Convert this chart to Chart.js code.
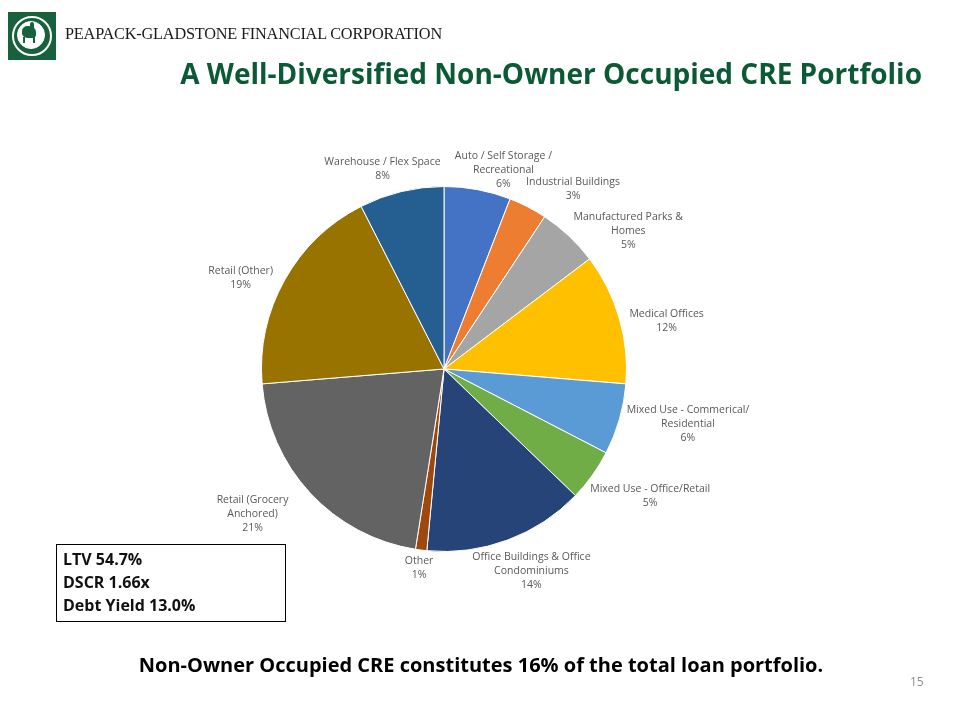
<!DOCTYPE html>
<html>
<head>
<meta charset="utf-8">
<script src="https://cdn.jsdelivr.net/npm/chart.js@4"></script>
<style>
  html, body { margin: 0; padding: 0; background: #fff; }
  #page { position: relative; width: 960px; height: 720px; overflow: hidden; font-family: "Open Sans", sans-serif; }
  #chartWrap { position: absolute; left: 0; top: 0; width: 960px; height: 720px; }
  #logo { position: absolute; left: 8px; top: 12px; width: 48px; height: 48px; background: #17613d; }
  #logo .ring { position: absolute; left: 4px; top: 4px; width: 36px; height: 36px; border-radius: 50%; border: 2px solid #fff; }
  #logo .inner { position: absolute; left: 9px; top: 9px; width: 26px; height: 26px; border-radius: 50%; background: #fff; border: 1px solid #fff; }
  #logo .horse { position: absolute; left: 14px; top: 14px; width: 14px; height: 12px; background: #17613d; border-radius: 40% 50% 30% 40%; }
  #logo .rider { position: absolute; left: 22px; top: 10px; width: 4px; height: 8px; background: #17613d; border-radius: 2px; }
  #logo .legs { position: absolute; left: 15px; top: 25px; width: 12px; height: 6px; border-left: 2px solid #17613d; border-right: 2px solid #17613d; box-sizing: border-box; }
  #company { position: absolute; left: 65px; top: 24px; font-family: "Liberation Serif", serif; font-size: 16.3px; color: #1a1a1a; letter-spacing: -0.2px; white-space: nowrap; }
  #title { position: absolute; left: 0; width: 960px; top: 54px; text-align: right; font-weight: bold; font-size: 28px; color: #0b5a35; white-space: nowrap; }
  #title span { margin-right: 38px; }
  #stats { position: absolute; left: 56px; top: 544px; width: 230px; height: 78px; border: 1px solid #000; font-weight: bold; font-size: 16px; line-height: 23px; color: #111; padding: 3px 0 0 6px; box-sizing: border-box; }
  #note { position: absolute; left: 0; width: 962px; top: 651px; text-align: center; font-weight: bold; font-size: 20px; color: #000; white-space: nowrap; }
  #pageNum { position: absolute; left: 910px; top: 673px; font-size: 12px; color: #8c8c8c; }
</style>
</head>
<body>
<div id="page">
  <div id="chartWrap"><canvas id="pie" width="960" height="720"></canvas></div>
  <div id="logo"><div class="ring"></div><div class="inner"></div><div class="horse"></div><div class="rider"></div><div class="legs"></div></div>
  <div id="company">PEAPACK-GLADSTONE FINANCIAL CORPORATION</div>
  <div id="title"><span>A Well-Diversified Non-Owner Occupied CRE Portfolio</span></div>
  <div id="stats">LTV 54.7%<br>DSCR 1.66x<br>Debt Yield 13.0%</div>
  <div id="note">Non-Owner Occupied CRE constitutes 16% of the total loan portfolio.</div>
  <div id="pageNum">15</div>
</div>
<script>
// slices, clockwise from 12 o'clock
var categories = [
    ['Auto / Self Storage /', 'Recreational'],
    ['Industrial Buildings'],
    ['Manufactured Parks &', 'Homes'],
    ['Medical Offices'],
    ['Mixed Use - Commerical/', 'Residential'],
    ['Mixed Use - Office/Retail'],
    ['Office Buildings & Office', 'Condominiums'],
    ['Other'],
    ['Retail (Grocery', 'Anchored)'],
    ['Retail (Other)'],
    ['Warehouse / Flex Space']
];
var shares = [5.9, 3.4, 5.4, 11.6, 6.3, 4.6, 14.3, 1.0, 21.2, 18.8, 7.5];
var sliceColors = ['#4472c4', '#ed7d31', '#a5a5a5', '#ffc000', '#5b9bd5', '#70ad47',
                   '#264478', '#9e480e', '#636363', '#997300', '#255e91'];

var labelFont = '10.5px "Open Sans"';
var lineH = 14;
// small hand adjustments so labels sit where Excel's best-fit put them
var labelNudge = [[15, 11], [19, 3], [15, 18], [2, 10], [0, -4], [1, 7], [0, 2], [1, -6], [-24, 0], [-7, 10], [-3, 1]];

// draws category name + rounded percent just outside each slice
var outsideLabels = {
    id: 'outsideLabels',
    afterDatasetsDraw: function(chart) {
        var ctx = chart.ctx;
        var meta = chart.getDatasetMeta(0);
        var total = shares.reduce(function(a, b) { return a + b; }, 0);
        ctx.save();
        ctx.font = labelFont;
        ctx.fillStyle = '#595959';
        ctx.textAlign = 'center';
        ctx.textBaseline = 'middle';
        meta.data.forEach(function(arc, i) {
            var p = arc.getProps(['x', 'y', 'startAngle', 'endAngle', 'outerRadius'], true);
            var mid = (p.startAngle + p.endAngle) / 2;
            var dx = Math.cos(mid), dy = Math.sin(mid);
            var lines = categories[i].concat([Math.round(shares[i] / total * 100) + '%']);
            var w = 0;
            lines.forEach(function(t) { w = Math.max(w, ctx.measureText(t).width); });
            var h = lines.length * lineH;
            var gap = 10;
            var ax = p.x + dx * (p.outerRadius + gap);
            var ay = p.y + dy * (p.outerRadius + gap);
            var cx = ax + dx * w / 2 + labelNudge[i][0];
            var cy = ay + dy * h / 2 + labelNudge[i][1];
            lines.forEach(function(t, k) {
                ctx.fillText(t, cx, cy - h / 2 + lineH * (k + 0.5));
            });
        });
        ctx.restore();
    }
};

let pieChart = new Chart(document.getElementById('pie'), {
    type: 'pie',
    data: {
        labels: categories,
        datasets: [{
            data: shares,
            backgroundColor: sliceColors,
            borderColor: '#ffffff',
            borderWidth: 1
        }]
    },
    options: {
        responsive: false,
        animation: false,
        layout: {
            padding: { left: 261, right: 333, top: 186, bottom: 168 }
        },
        plugins: {
            legend: { display: false },
            tooltip: { enabled: false }
        }
    },
    plugins: [outsideLabels]
});
</script>
</body>
</html>
